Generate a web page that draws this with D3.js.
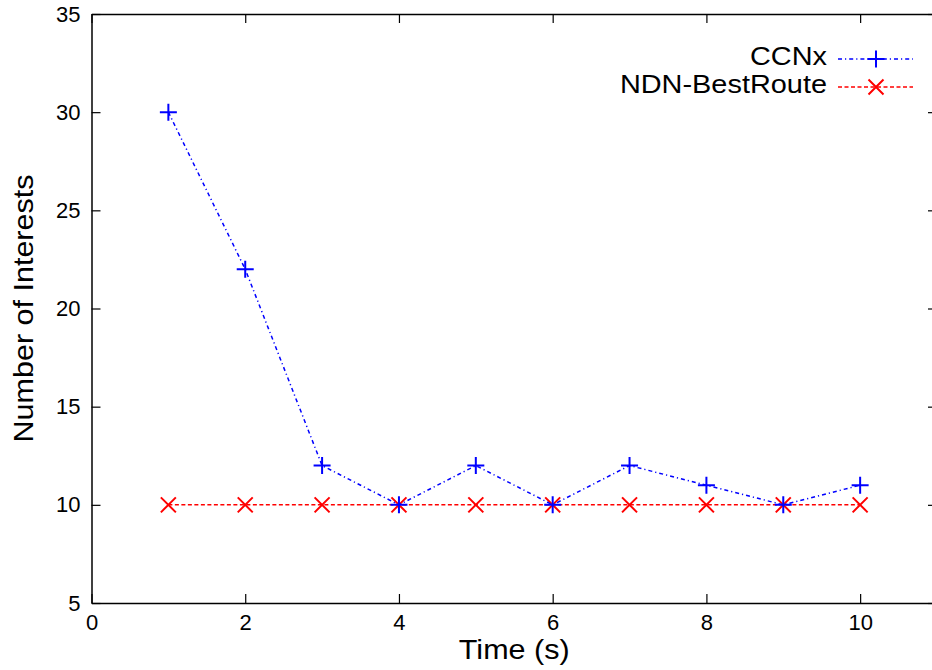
<!DOCTYPE html>
<html>
<head>
<meta charset="utf-8">
<script src="https://cdn.jsdelivr.net/npm/d3@7"></script>
<style>
  body { margin: 0; background: #fff; }
  svg { display: block; font-family: "Liberation Sans", Arial, sans-serif; }
</style>
</head>
<body>
<div id="chart"></div>
<script>
const times = [1, 2, 3, 4, 5, 6, 7, 8, 9, 10];
const ccnx = [30, 22, 12, 10, 12, 10, 12, 11, 10, 11];
const bestRoute = [10, 10, 10, 10, 10, 10, 10, 10, 10, 10];
const xTicks = [0, 2, 4, 6, 8, 10];
const yTicks = [5, 10, 15, 20, 25, 30, 35];

const W = 932, H = 670;
const margin = { top: 14, right: -5, bottom: 67, left: 91.5 };
const width = W - margin.left - margin.right;
const height = H - margin.top - margin.bottom;

const svg = d3.select("#chart").append("svg")
  .attr("width", W)
  .attr("height", H);

const g = svg.append("g")
  .attr("transform", `translate(${margin.left},${margin.top})`);

const x = d3.scaleLinear().domain([0, 11]).range([0, width]);
const y = d3.scaleLinear().domain([5, 35]).range([height, 0]);

// Axes with inward ticks, mirrored on top/right
g.append("g")
  .attr("class", "axis")
  .attr("transform", `translate(0,${height})`)
  .call(d3.axisBottom(x).tickValues(xTicks).tickSizeInner(-9).tickSizeOuter(0).tickPadding(11));

g.append("g")
  .attr("class", "axis")
  .call(d3.axisLeft(y).tickValues(yTicks).tickSizeInner(-9).tickSizeOuter(0).tickPadding(11));

g.append("g")
  .attr("class", "axis mirror")
  .call(d3.axisTop(x).tickValues(xTicks).tickSizeInner(-9).tickSizeOuter(0).tickFormat(""));

g.append("g")
  .attr("class", "axis mirror")
  .attr("transform", `translate(${width},0)`)
  .call(d3.axisRight(y).tickValues(yTicks).tickSizeInner(-9).tickSizeOuter(0).tickFormat(""));

g.selectAll(".axis path").attr("stroke", "#000").attr("stroke-width", 1.5);
g.selectAll(".axis line").attr("stroke", "#000").attr("stroke-width", 1.2);
g.selectAll(".axis text")
  .attr("fill", "#000")
  .style("font-size", "22px");

// Series
const series = [
  { name: "CCNx", values: ccnx, color: "#0000ff", dash: "4,3,1.2,3", marker: "plus" },
  { name: "NDN-BestRoute", values: bestRoute, color: "#ff0000", dash: "4,2.5", marker: "cross" }
];

const line = d3.line()
  .x((d, i) => x(times[i]))
  .y(d => y(d));

function drawMarker(sel, type, color, s) {
  if (type === "plus") {
    sel.append("path")
      .attr("d", `M${-s},0H${s}M0,${-s}V${s}`)
      .attr("stroke", color)
      .attr("stroke-width", 2)
      .attr("fill", "none");
  } else {
    sel.append("path")
      .attr("d", `M${-s},${-s}L${s},${s}M${-s},${s}L${s},${-s}`)
      .attr("stroke", color)
      .attr("stroke-width", 2)
      .attr("fill", "none");
  }
}

series.slice().reverse().forEach(s => {
  g.append("path")
    .datum(s.values)
    .attr("d", line)
    .attr("fill", "none")
    .attr("stroke", s.color)
    .attr("stroke-width", 1.5)
    .attr("stroke-dasharray", s.dash);

  g.selectAll(null)
    .data(s.values)
    .join("g")
    .attr("transform", (d, i) => `translate(${x(times[i])},${y(d)})`)
    .each(function () {
      drawMarker(d3.select(this), s.marker, s.color, s.marker === "plus" ? 8.5 : 7.5);
    });
});

// Legend
const legend = svg.append("g");
const legendRows = [59, 87];
series.forEach((s, i) => {
  const row = legend.append("g").attr("transform", `translate(0,${legendRows[i]})`);
  row.append("text")
    .attr("class", "stretch")
    .attr("x", 827)
    .attr("y", 6)
    .attr("text-anchor", "end")
    .style("font-size", "26.5px")
    .text(s.name);
  row.append("line")
    .attr("x1", 838).attr("x2", 913)
    .attr("y1", 0).attr("y2", 0)
    .attr("stroke", s.color)
    .attr("stroke-width", 1.5)
    .attr("stroke-dasharray", s.dash);
  const m = row.append("g").attr("transform", "translate(876,0)");
  drawMarker(m, s.marker, s.color, s.marker === "plus" ? 8.5 : 7.5);
});

// Axis titles
svg.append("text")
  .attr("class", "stretch")
  .attr("x", margin.left + x(5.5))
  .attr("y", 659)
  .attr("text-anchor", "middle")
  .style("font-size", "28px")
  .text("Time (s)");

svg.append("text")
  .attr("class", "stretch")
  .attr("transform", `translate(33,${margin.top + y(20)}) rotate(-90)`)
  .attr("text-anchor", "middle")
  .style("font-size", "28px")
  .text("Number of Interests");

// the original fonts are a bit wider than Liberation Sans
svg.selectAll("text.stretch").each(function () {
  const len = this.getComputedTextLength();
  d3.select(this)
    .attr("textLength", len * 1.09)
    .attr("lengthAdjust", "spacingAndGlyphs");
});
</script>
</body>
</html>
